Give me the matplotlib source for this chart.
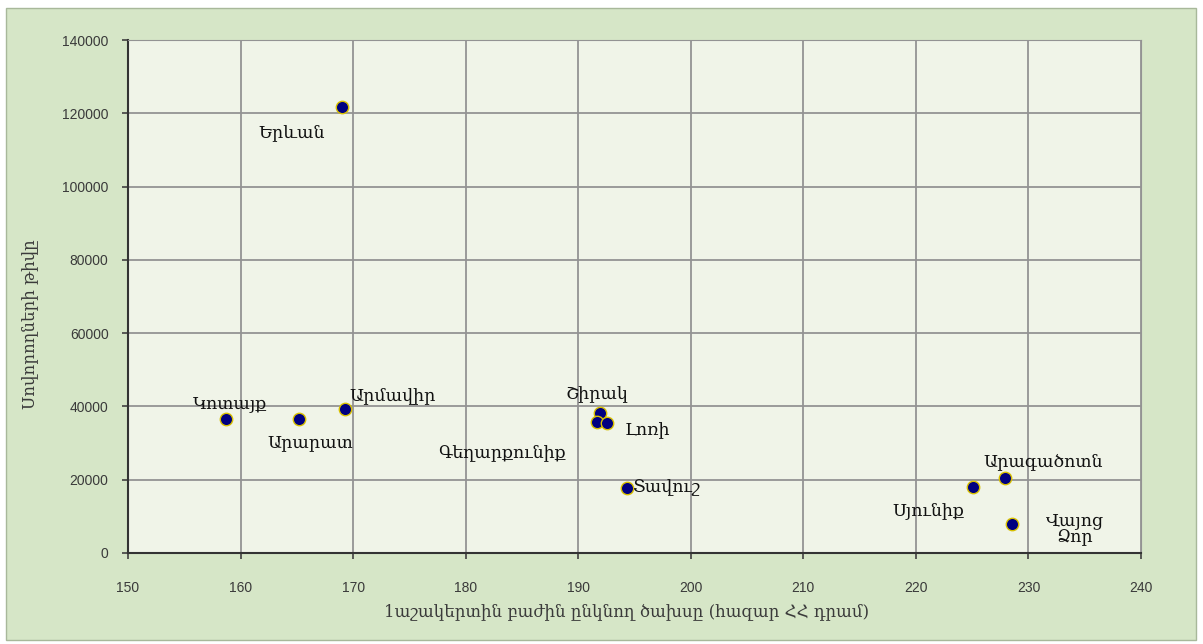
import matplotlib
matplotlib.use('Agg')
import matplotlib.pyplot as plt
from matplotlib.patches import Rectangle

# մարզեր
regions = ['Երևան', 'Կոտայք', 'Արարատ', 'Արմավիր', 'Շիրակ', 'Գեղարքունիք',
           'Լոռի', 'Տավուշ', 'Արագածոտն', 'Սյունիք', 'Վայոց\nՁոր']
cost = [169.0, 158.7, 165.2, 169.3, 191.9, 191.7, 192.6, 194.3, 227.9, 225.1, 228.5]
students = [121800, 36500, 36500, 39200, 38200, 35700, 35400, 17700, 20500, 17900, 7900]

x_ticks = [150, 160, 170, 180, 190, 200, 210, 220, 230, 240]
y_ticks = [0, 20000, 40000, 60000, 80000, 100000, 120000, 140000]

x_label = '1աշակերտին բաժին ընկնող ծախսը (հազար ՀՀ դրամ)'
y_label = 'Սովորողների թիվը'

# label offsets in pixels (dx, dy), y up
offsets = [(-50, -26), (4, 16), (11, -23), (47, 14), (-3, 18), (-95, -30),
           (40, -7), (39, 1), (38, 15), (-45, -23), (63, -5)]


def main():
    plt.rcParams['font.family'] = ['DejaVu Serif', 'DejaVu Sans']
    fig = plt.figure(figsize=(12.03, 6.44), dpi=100)
    fig.patch.set_facecolor('white')

    # zelenyi fon
    fig.patches.append(Rectangle((6 / 1203, 4 / 644), 1190 / 1203, 632 / 644,
                                 transform=fig.transFigure, facecolor='#d6e6c7',
                                 edgecolor='#a8b89a', linewidth=1.0, zorder=-5))

    ax = fig.add_axes([128 / 1203, 1 - 553 / 644, 1013 / 1203, 513 / 644])
    ax.set_facecolor('#f0f4e8')

    ax.scatter(cost, students, s=80, color='#000080', edgecolors='#d8c000',
               linewidths=1.0, zorder=3)

    for name, x, y, (dx, dy) in zip(regions, cost, students, offsets):
        ax.annotate(name, xy=(x, y), xytext=(dx, dy), textcoords='offset pixels',
                    ha='center', va='center', fontsize=12.5, color='#111111',
                    linespacing=1.0, zorder=4)

    ax.set_xlim(150, 240)
    ax.set_ylim(0, 140000)
    ax.set_xticks(x_ticks)
    ax.set_yticks(y_ticks)
    ax.tick_params(axis='both', labelsize=10, labelcolor='#3a3a3a', color='#404040',
                   length=4, width=1.2)
    for lbl in ax.get_xticklabels() + ax.get_yticklabels():
        lbl.set_family('Liberation Sans')
    ax.tick_params(axis='x', pad=16)
    ax.tick_params(axis='y', pad=10)

    ax.grid(True, color='#939393', linewidth=1.3)
    ax.set_axisbelow(True)
    ax.spines['left'].set_color('#333333')
    ax.spines['bottom'].set_color('#333333')
    ax.spines['left'].set_linewidth(1.5)
    ax.spines['bottom'].set_linewidth(1.5)
    ax.spines['top'].set_color('#939393')
    ax.spines['right'].set_color('#939393')

    ax.set_xlabel(x_label, fontsize=12, color='#3a3a3a', va='center')
    ax.set_ylabel(y_label, fontsize=12, color='#3a3a3a', va='center')
    ax.xaxis.set_label_coords(0.4926, -0.117)
    ax.yaxis.set_label_coords(-0.097, 0.446)

    fig.savefig('out.png', dpi=100, facecolor=fig.get_facecolor())


if __name__ == '__main__':
    main()
